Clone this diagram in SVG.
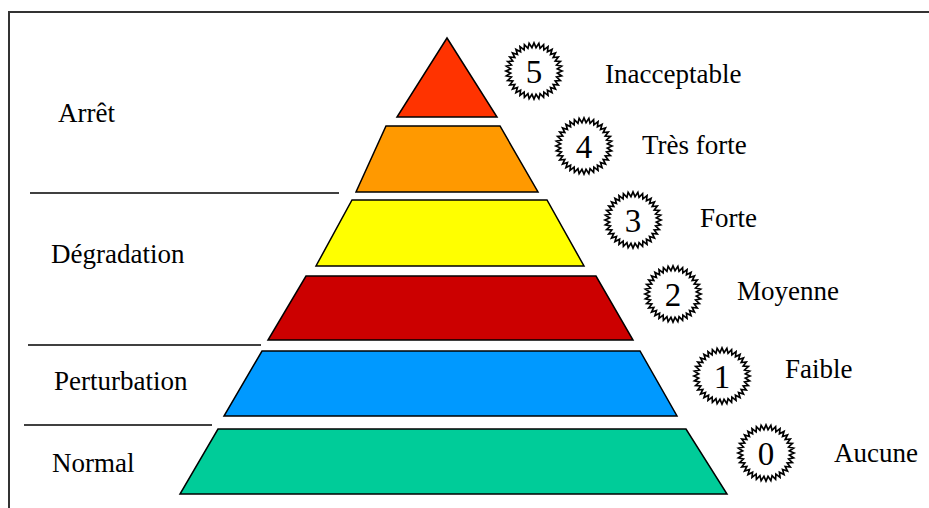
<svg xmlns="http://www.w3.org/2000/svg" xmlns:xlink="http://www.w3.org/1999/xlink" width="929" height="508" viewBox="0 0 929 508">
<style>
.lvl{stroke:#000;stroke-width:1.5;stroke-linejoin:miter}
.sep{stroke:#000;stroke-width:1.3;fill:none}
text{font-family:'Liberation Serif','DejaVu Serif',serif;fill:#000}
.t{font-size:27px}
.d{font-size:33px;text-anchor:middle}
.burst{fill:#fff;stroke:#000;stroke-width:1.6;stroke-linejoin:miter}
</style>
<defs>
<polygon id="star" class="burst" transform="scale(1.04)" points="27,0 22.41,1.96 26.59,4.69 21.73,5.82 25.37,9.23 20.39,9.51 23.38,13.5 18.43,12.91 20.68,17.36 15.91,15.91 17.36,20.68 12.91,18.43 13.5,23.38 9.51,20.39 9.23,25.37 5.82,21.73 4.69,26.59 1.96,22.41 0,27 -1.96,22.41 -4.69,26.59 -5.82,21.73 -9.23,25.37 -9.51,20.39 -13.5,23.38 -12.91,18.43 -17.36,20.68 -15.91,15.91 -20.68,17.36 -18.43,12.91 -23.38,13.5 -20.39,9.51 -25.37,9.23 -21.73,5.82 -26.59,4.69 -22.41,1.96 -27,0 -22.41,-1.96 -26.59,-4.69 -21.73,-5.82 -25.37,-9.23 -20.39,-9.51 -23.38,-13.5 -18.43,-12.91 -20.68,-17.36 -15.91,-15.91 -17.36,-20.68 -12.91,-18.43 -13.5,-23.38 -9.51,-20.39 -9.23,-25.37 -5.82,-21.73 -4.69,-26.59 -1.96,-22.41 0,-27 1.96,-22.41 4.69,-26.59 5.82,-21.73 9.23,-25.37 9.51,-20.39 13.5,-23.38 12.91,-18.43 17.36,-20.68 15.91,-15.91 20.68,-17.36 18.43,-12.91 23.38,-13.5 20.39,-9.51 25.37,-9.23 21.73,-5.82 26.59,-4.69 22.41,-1.96"/>
</defs>
<rect width="929" height="508" fill="#fff"/>
<path d="M9,510 V12 H931" fill="none" stroke="#333" stroke-width="2"/>

<g id="separators">
<line class="sep" x1="30" y1="193" x2="339" y2="193"/>
<line class="sep" x1="28" y1="345" x2="261" y2="345"/>
<line class="sep" x1="24" y1="425" x2="212" y2="425"/>
</g>

<g id="zones">
<text class="t" x="58" y="122">Arrêt</text>
<text class="t" x="51" y="263">Dégradation</text>
<text class="t" x="54" y="390">Perturbation</text>
<text class="t" x="52" y="472">Normal</text>
</g>

<g id="level5">
<polygon class="lvl" fill="#FF3300" points="447,38 497,117 397,117"/>
<use xlink:href="#star" href="#star" x="534" y="71"/>
<text class="d" x="534" y="83">5</text>
<text class="t" x="605" y="83">Inacceptable</text>
</g>
<g id="level4">
<polygon class="lvl" fill="#FF9900" points="386,126 500,126 538,192 356,192"/>
<use xlink:href="#star" href="#star" x="584" y="146"/>
<text class="d" x="584" y="158">4</text>
<text class="t" x="642" y="154">Très forte</text>
</g>
<g id="level3">
<polygon class="lvl" fill="#FFFF00" points="352,200 547,200 584,266 316,266"/>
<use xlink:href="#star" href="#star" x="633" y="220"/>
<text class="d" x="633" y="232">3</text>
<text class="t" x="700" y="227">Forte</text>
</g>
<g id="level2">
<polygon class="lvl" fill="#CC0000" points="306,276 596,276 633,340 268,340"/>
<use xlink:href="#star" href="#star" x="673" y="294"/>
<text class="d" x="673" y="306">2</text>
<text class="t" x="737" y="300">Moyenne</text>
</g>
<g id="level1">
<polygon class="lvl" fill="#0099FF" points="262,351 640,351 677,416 224,416"/>
<use xlink:href="#star" href="#star" x="722" y="376"/>
<text class="d" x="722" y="388">1</text>
<text class="t" x="785" y="378">Faible</text>
</g>
<g id="level0">
<polygon class="lvl" fill="#00CC99" points="218,429 686,429 727,494 180,494"/>
<use xlink:href="#star" href="#star" x="766" y="453"/>
<text class="d" x="766" y="465">0</text>
<text class="t" x="834" y="462">Aucune</text>
</g>
</svg>
